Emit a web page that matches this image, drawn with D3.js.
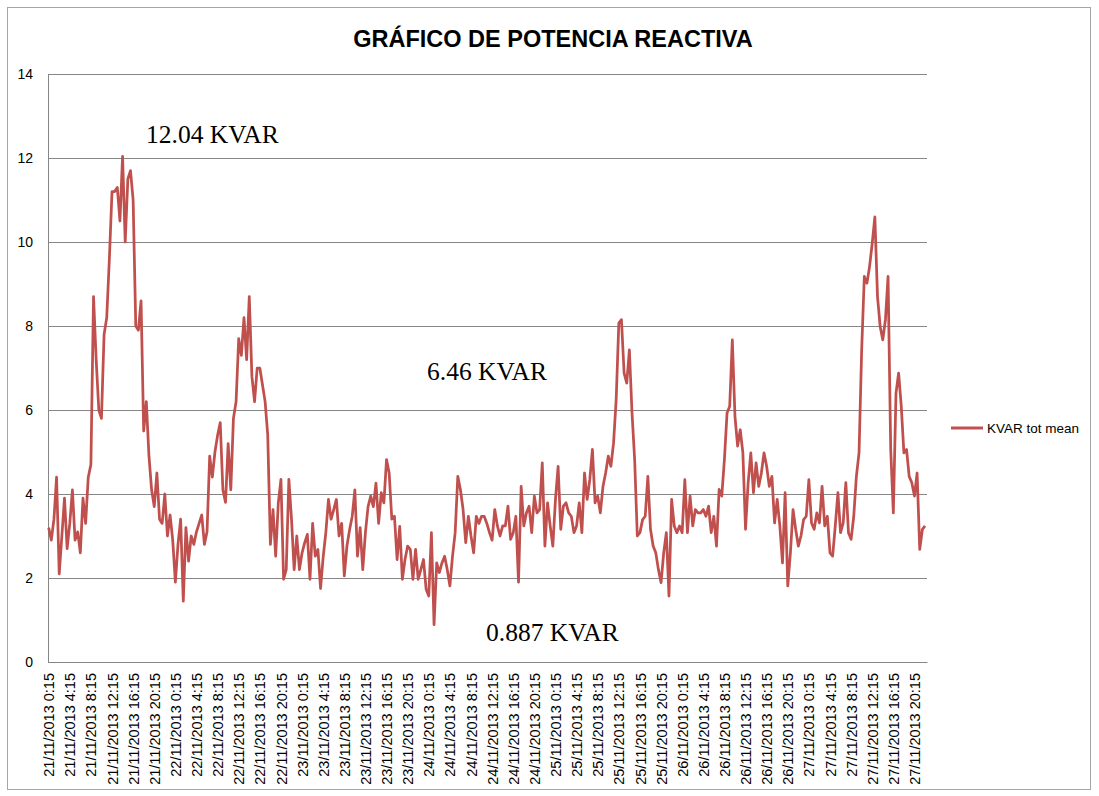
<!DOCTYPE html>
<html>
<head>
<meta charset="utf-8">
<script src="https://cdn.jsdelivr.net/npm/d3@7"></script>
<style>
  body { margin: 0; background: #fff; }
</style>
</head>
<body>
<div id="chart"></div>
<script>
// x axis categories: one label every 4 hours
const dates = ["21/11/2013", "22/11/2013", "23/11/2013", "24/11/2013", "25/11/2013", "26/11/2013", "27/11/2013"];
const hours = ["0:15", "4:15", "8:15", "12:15", "16:15", "20:15"];
const yTicks = [0, 2, 4, 6, 8, 10, 12, 14];

// KVAR tot mean, read every half hour from 0:15 of each day
const kvar21 = [3.2, 2.9, 3.4, 4.4, 2.1, 3.0, 3.9, 2.7, 3.3, 4.1, 2.9, 3.1, 2.6, 3.9, 3.3, 4.4,
  4.7, 8.7, 7.2, 6.0, 5.8, 7.8, 8.2, 9.6, 11.2, 11.2, 11.3, 10.5, 12.04, 10.0, 11.5, 11.7,
  11.0, 8.0, 7.9, 8.6, 5.5, 6.2, 4.9, 4.1, 3.7, 4.5, 3.4, 3.3, 4.0, 3.0, 3.5, 2.9];
const kvar22 = [1.9, 2.8, 3.4, 1.45, 3.2, 2.4, 3.0, 2.8, 3.1, 3.3, 3.5, 2.8, 3.1, 4.9, 4.4, 5.0,
  5.4, 5.7, 4.1, 3.8, 5.2, 4.1, 5.8, 6.2, 7.7, 7.3, 8.2, 7.2, 8.7, 6.8, 6.2, 7.0,
  7.0, 6.6, 6.2, 5.4, 2.8, 3.63, 2.52, 3.79, 4.35, 1.97, 2.2, 4.35, 3.4, 2.2, 3.0, 2.2];
const kvar23 = [2.6, 2.84, 3.04, 1.97, 3.3, 2.52, 2.68, 1.75, 2.5, 3.08, 3.87, 3.4, 3.63, 3.87, 3.0, 3.3,
  2.05, 2.76, 3.15, 3.47, 4.1, 2.52, 3.2, 2.2, 3.08, 3.7, 3.95, 3.7, 4.26, 3.3, 4.03, 3.79,
  4.82, 4.5, 3.4, 3.47, 2.44, 3.23, 1.97, 2.44, 2.76, 2.68, 1.97, 2.68, 1.97, 2.2, 2.44, 1.73];
const kvar24 = [1.57, 3.08, 0.887, 2.36, 2.13, 2.36, 2.52, 2.2, 1.81, 2.52, 3.08, 4.42, 4.1, 3.63, 2.84, 3.47,
  3.0, 2.6, 3.47, 3.3, 3.47, 3.47, 3.3, 3.08, 2.9, 3.63, 3.24, 3.0, 3.24, 3.24, 3.71, 2.92,
  3.08, 3.47, 1.9, 4.18, 3.24, 3.55, 3.71, 3.08, 3.95, 3.55, 3.63, 4.74, 2.76, 3.79, 3.24, 2.76];
const kvar25 = [3.87, 4.66, 3.16, 3.71, 3.79, 3.55, 3.47, 3.08, 3.24, 3.79, 3.08, 4.5, 3.87, 4.34, 5.06, 3.79,
  3.95, 3.55, 4.18, 4.5, 4.9, 4.66, 5.21, 6.25, 8.07, 8.15, 6.88, 6.64, 7.43, 5.93, 4.82, 3.0,
  3.08, 3.39, 3.47, 4.42, 3.16, 2.76, 2.6, 2.2, 1.89, 2.6, 3.08, 1.57, 3.87, 3.24, 3.08, 3.24];
const kvar26 = [3.08, 4.34, 3.08, 3.95, 3.24, 3.63, 3.55, 3.55, 3.63, 3.47, 3.71, 3.08, 3.47, 2.76, 4.11, 3.95,
  4.82, 5.93, 6.09, 7.67, 5.85, 5.14, 5.53, 4.98, 3.16, 4.27, 4.98, 4.03, 4.74, 4.18, 4.5, 4.98,
  4.66, 4.18, 4.42, 3.31, 3.87, 3.24, 2.36, 4.03, 1.81, 2.6, 3.63, 3.16, 2.76, 3.0, 3.39, 3.47];
const kvar27 = [4.34, 3.31, 3.16, 3.55, 3.31, 4.18, 3.24, 3.47, 2.6, 2.52, 3.24, 4.03, 3.08, 3.31, 4.27, 3.08,
  2.92, 3.47, 4.42, 4.98, 7.43, 9.18, 9.02, 9.42, 9.97, 10.6, 8.7, 7.99, 7.67, 8.15, 9.18, 5.06,
  3.55, 6.4, 6.88, 6.09, 4.98, 5.06, 4.42, 4.27, 3.95, 4.5, 2.68, 3.16, 3.24];

const notes = ["12.04 KVAR", "6.46 KVAR", "0.887 KVAR"];
const seriesName = "KVAR tot mean";

const kvar = [].concat(kvar21, kvar22, kvar23, kvar24, kvar25, kvar26, kvar27);
const labels = dates.flatMap(d => hours.map(h => d + " " + h));

const width = 1099;
const height = 796;
const red = "#c0504d";
const grid = "#868686";

const svg = d3.select("#chart")
  .append("svg")
  .attr("width", width)
  .attr("height", height);

svg.append("rect")
  .attr("x", 7.5)
  .attr("y", 7.5)
  .attr("width", 1083)
  .attr("height", 782)
  .attr("fill", "#fff")
  .attr("stroke", "#a6a6a6");

// hours since 21/11 0:15, half a 15 min slot of padding on each side
let x = d3.scaleLinear()
  .domain([-0.125, 166.375])
  .range([48, 927]);

let y = d3.scaleLinear()
  .domain([0, 14])
  .range([662, 74]);

// y axis with gridlines
let yAxis = svg.append("g")
  .attr("transform", "translate(48,0)")
  .call(d3.axisLeft(y)
    .tickValues(yTicks)
    .tickSize(-879)
    .tickSizeOuter(0)
    .tickPadding(15));
yAxis.select(".domain").attr("stroke", grid);
yAxis.selectAll(".tick line").attr("stroke", grid);
yAxis.selectAll(".tick text")
  .attr("fill", "#000")
  .style("font-family", "'Liberation Sans', Arial, sans-serif")
  .style("font-size", "14px");

// x axis, labels turned upright
let xAxis = svg.append("g")
  .attr("transform", "translate(0,662)")
  .call(d3.axisBottom(x)
    .tickValues(d3.range(labels.length).map(i => i * 4))
    .tickFormat((d, i) => labels[i])
    .tickSize(0)
    .tickSizeOuter(0));
xAxis.select(".domain").attr("stroke", grid);
xAxis.selectAll(".tick text")
  .attr("transform", "rotate(-90)")
  .attr("x", -11)
  .attr("y", 0)
  .attr("dy", "0.35em")
  .attr("text-anchor", "end")
  .attr("fill", "#000")
  .style("font-family", "'Liberation Sans', Arial, sans-serif")
  .style("font-size", "14.5px");

let line = d3.line()
  .x((d, i) => x(i * 0.5))
  .y(d => y(d));

svg.append("path")
  .datum(kvar)
  .attr("d", line)
  .attr("fill", "none")
  .attr("stroke", red)
  .attr("stroke-width", 2.75)
  .attr("stroke-linejoin", "round");

svg.append("text")
  .attr("x", 553)
  .attr("y", 47)
  .attr("text-anchor", "middle")
  .style("font-family", "'Liberation Sans', Arial, sans-serif")
  .style("font-weight", "bold")
  .style("font-size", "23.5px")
  .text("GRÁFICO DE POTENCIA REACTIVA");

// free text boxes on the chart
const notePos = [[146, 143], [427, 380], [486, 641]];
svg.selectAll(".note")
  .data(notes).enter()
  .append("text")
  .attr("class", "note")
  .attr("x", (d, i) => notePos[i][0])
  .attr("y", (d, i) => notePos[i][1])
  .style("font-family", "'Liberation Serif', 'Times New Roman', serif")
  .style("font-size", "25.5px")
  .text(d => d);

// legend
svg.append("line")
  .attr("x1", 951)
  .attr("x2", 983)
  .attr("y1", 428)
  .attr("y2", 428)
  .attr("stroke", red)
  .attr("stroke-width", 3);

svg.append("text")
  .attr("x", 987)
  .attr("y", 428)
  .attr("dy", "0.35em")
  .style("font-family", "'Liberation Sans', Arial, sans-serif")
  .style("font-size", "13.5px")
  .text(seriesName);
</script>
</body>
</html>
